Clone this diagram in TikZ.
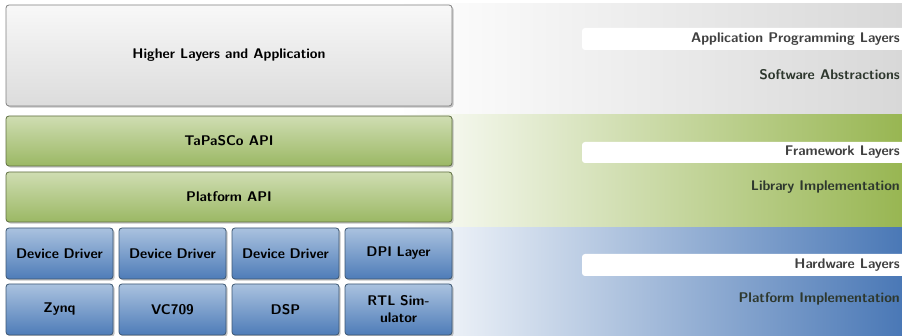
\documentclass[tikz,border=0pt]{standalone}
\usetikzlibrary{shadows}
\definecolor{bandgrayc}{HTML}{D8D8D8}
\definecolor{bandgreenc}{HTML}{98B652}
\definecolor{bandbluec}{HTML}{4A78B6}
\definecolor{bandwhite}{HTML}{FFFFFF}
\pgfdeclarehorizontalshading{bandgray}{100bp}{color(0bp)=(bandwhite); color(47bp)=(bandwhite); color(75bp)=(bandgrayc); color(100bp)=(bandgrayc)}
\pgfdeclarehorizontalshading{bandgreen}{100bp}{color(0bp)=(bandwhite); color(47bp)=(bandwhite); color(75bp)=(bandgreenc); color(100bp)=(bandgreenc)}
\pgfdeclarehorizontalshading{bandblue}{100bp}{color(0bp)=(bandwhite); color(47bp)=(bandwhite); color(75bp)=(bandbluec); color(100bp)=(bandbluec)}
\definecolor{grtop}{HTML}{F8F8F8}
\definecolor{grbot}{HTML}{DCDCDC}
\definecolor{grline}{HTML}{808080}
\definecolor{gntop}{HTML}{CFDDB2}
\definecolor{gnbot}{HTML}{9BB864}
\definecolor{gnline}{HTML}{5E6E40}
\definecolor{bltop}{HTML}{AAC2DF}
\definecolor{blbot}{HTML}{4E7CB8}
\definecolor{blline}{HTML}{3C5672}
\definecolor{labtop}{HTML}{404040}
\definecolor{labbot}{HTML}{2E382E}
\tikzset{
  basebox/.style={rounded corners=3pt, line width=0.8pt, inner sep=2pt, align=center,
    font=\fontsize{14}{17}\selectfont\sffamily\bfseries,
    drop shadow={shadow xshift=1.6pt, shadow yshift=-1.6pt, opacity=0.45}},
  graybox/.style={basebox, draw=grline, top color=grtop, bottom color=grbot},
  greenbox/.style={basebox, draw=gnline, top color=gntop, bottom color=gnbot},
  bluebox/.style={basebox, draw=blline, top color=bltop, bottom color=blbot, minimum width=107pt, minimum height=51pt, text width=100pt},
  labelbox/.style={fill=white, rounded corners=3pt},
  labtext/.style={anchor=east, inner sep=0pt, font=\fontsize{14}{17}\selectfont\sffamily\bfseries},
}
\begin{document}
\begin{tikzpicture}[x=1pt,y=-1pt]
\useasboundingbox (0,0) rectangle (902,336);
% background bands
\shade[shading=bandgray] (0,4) rectangle (902,113.5);
\shade[shading=bandgreen] (0,115) rectangle (902,227);
\shade[shading=bandblue] (0,228) rectangle (902,337);
% label strips
\fill[labelbox] (582,28) rectangle (908,50);
\fill[labelbox] (582,142) rectangle (908,163);
\fill[labelbox] (582,254) rectangle (908,276);
\node[labtext, text=labtop] (l1) at (900,39) {Application Programming Layers};
\node[labtext, text=labbot] (l2) at (900,75) {Software Abstractions};
\node[labtext, text=labtop] (l3) at (900,152.5) {Framework Layers};
\node[labtext, text=labbot] (l4) at (900,187) {Library Implementation};
\node[labtext, text=labtop] (l5) at (900,265) {Hardware Layers};
\node[labtext, text=labbot] (l6) at (900,299) {Platform Implementation};
% boxes
\node[graybox, minimum width=446pt, minimum height=101pt] (hl) at (229,55.5) {Higher Layers and Application};
\node[greenbox, minimum width=446pt, minimum height=50pt] (tapi) at (229,141) {TaPaSCo API};
\node[greenbox, minimum width=446pt, minimum height=50pt] (papi) at (229,197) {Platform API};
\node[bluebox] (dd1) at (59.5,253.5) {Device Driver};
\node[bluebox] (dd2) at (172.5,253.5) {Device Driver};
\node[bluebox] (dd3) at (285.5,253.5) {Device Driver};
\node[bluebox] (dpi) at (398.5,253.5) {DPI Layer};
\node[bluebox] (zynq) at (59.5,309.5) {Zynq};
\node[bluebox] (vc) at (172.5,309.5) {VC709};
\node[bluebox] (dsp) at (285.5,309.5) {DSP};
\node[bluebox] (rtl) at (398.5,309.5) {RTL Sim-\\ulator};
\end{tikzpicture}
\end{document}
